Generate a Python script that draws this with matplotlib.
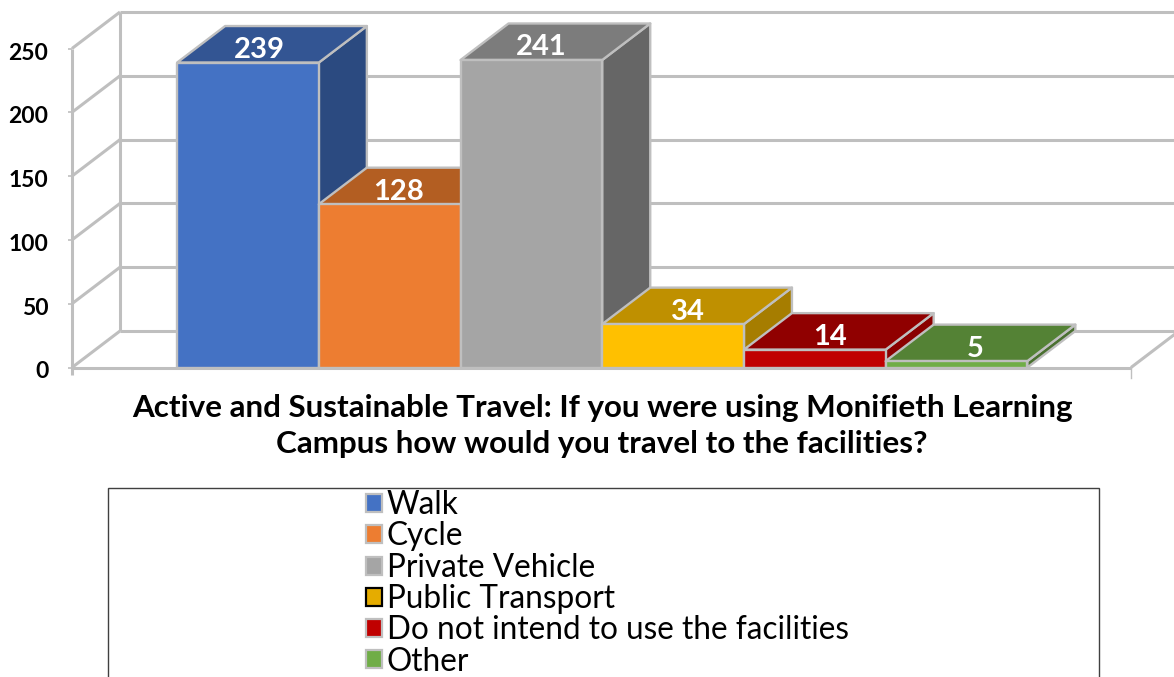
import matplotlib
matplotlib.use('Agg')
import matplotlib.pyplot as plt
from matplotlib.patches import Patch, Polygon, Rectangle
from matplotlib.transforms import ScaledTranslation

categories = ['Walk', 'Cycle', 'Private Vehicle', 'Public Transport',
              'Do not intend to use the facilities', 'Other']
values = [239, 128, 241, 34, 14, 5]
y_ticks = [0, 50, 100, 150, 200, 250]
title = ('Active and Sustainable Travel: If you were using Monifieth Learning\n'
         'Campus how would you travel to the facilities?')

front_colors = ['#4472C4', '#ED7D31', '#A5A5A5', '#FFC000', '#C00000', '#70AD47']
top_colors = ['#335593', '#B35E22', '#7C7C7C', '#BF9000', '#900000', '#548235']
side_colors = ['#2B4A80', '#9E521E', '#666666', '#A67D00', '#8A0000', '#4A7030']
legend_colors = ['#4472C4', '#ED7D31', '#A5A5A5', '#E5AC00', '#C00000', '#70AD47']
legend_edges = ['#BFBFBF', '#BFBFBF', '#BFBFBF', '#000000', '#BFBFBF', '#BFBFBF']

W, H = 1174, 677
GREY = '#BFBFBF'
FONT = 'Lato'

# pixel scale of the front plane
PX_PER_BAR = 141.7
PX_PER_UNIT = 1.276
X0_PX = 248.0
Y0_PX = 367.5
AX_LEFT_PX = 72.0

# depth of the fake 3d box, in data units
DX = 48.0 / PX_PER_BAR
DY = 36.5 / PX_PER_UNIT
LEFT = (AX_LEFT_PX - X0_PX) / PX_PER_BAR
RIGHT = (W - X0_PX) / PX_PER_BAR
FLOOR_END = (1131 - X0_PX) / PX_PER_BAR
BAR_W = 1.0

fig = plt.figure(figsize=(W / 100, H / 100), dpi=100)
ax = fig.add_axes([AX_LEFT_PX / W, (H - Y0_PX) / H, 1 - AX_LEFT_PX / W, Y0_PX / H])
ax.set_xlim(LEFT, RIGHT)
ax.set_ylim(0, Y0_PX / PX_PER_UNIT)
for s in ax.spines.values():
    s.set_visible(False)
ax.set_xticks([])
ax.set_yticks(y_ticks)
ax.tick_params(axis='y', length=3, width=1.2, color=GREY, pad=14)
tick_shift = ScaledTranslation(0, -2.5 / 100, fig.dpi_scale_trans)
for t in ax.get_yticklabels():
    t.set_fontsize(16.5)
    t.set_fontweight('bold')
    t.set_fontfamily(FONT)
    t.set_color('#000000')
    t.set_transform(t.get_transform() + tick_shift)

line = dict(color=GREY, lw=2.2, clip_on=False, solid_capstyle='butt', zorder=1)
top_tick = y_ticks[-1]
# walls and gridlines
for v in y_ticks:
    ax.plot([LEFT, LEFT + DX], [v, v + DY], **line)
    ax.plot([LEFT + DX, RIGHT], [v + DY, v + DY], **line)
ax.plot([LEFT, LEFT], [-6, top_tick], **line)
ax.plot([LEFT + DX, LEFT + DX], [DY, top_tick + DY], **line)
ax.plot([LEFT, FLOOR_END], [0, 0], **line)
ax.plot([FLOOR_END, FLOOR_END], [-8, 0], color=GREY, lw=1.0, clip_on=False, zorder=1)
ax.plot([FLOOR_END, FLOOR_END + DX], [0, DY], **line)

# bars, left to right so the next one overlaps the previous side
label_shift_px = [11, 9, 10, 15, 15, 19]
for i, v in enumerate(values):
    x1 = i - BAR_W / 2
    x2 = i + BAR_W / 2
    style = dict(edgecolor=GREY, lw=1.7, joinstyle='round', zorder=2 + i)
    ax.add_patch(Polygon([(x2, 0), (x2 + DX, DY), (x2 + DX, v + DY), (x2, v)],
                         facecolor=side_colors[i], **style))
    ax.add_patch(Polygon([(x1, v), (x2, v), (x2 + DX, v + DY), (x1 + DX, v + DY)],
                         facecolor=top_colors[i], **style))
    ax.add_patch(Polygon([(x1, 0), (x2, 0), (x2, v), (x1, v)],
                         facecolor=front_colors[i], **style))
    ax.annotate(str(v), (i, v), xytext=(label_shift_px[i] * 0.72, 12.5 * 0.72),
                textcoords='offset points', ha='center', va='center',
                color='white', fontsize=21, fontweight='bold', fontfamily=FONT,
                zorder=20)

fig.text(602 / W, 1 - 407.5 / H, title.split('\n')[0], ha='center', va='center',
         fontsize=22.6, fontweight='bold', fontfamily=FONT)
fig.text(602 / W, 1 - 444.5 / H, title.split('\n')[1], ha='center', va='center',
         fontsize=22.6, fontweight='bold', fontfamily=FONT)

# legend box runs off the bottom of the picture
fig.add_artist(Rectangle((108 / W, -0.02), 991 / W, 1.02 - 488 / H, transform=fig.transFigure,
                         facecolor='none', edgecolor='#404040', lw=1.0))
handles = [Patch(facecolor=c, edgecolor=e, lw=1.6, label=n)
           for c, e, n in zip(legend_colors, legend_edges, categories)]
fig.legend(handles=handles, loc='upper left', bbox_to_anchor=(341 / W, 1 - 465 / H),
           frameon=False, prop={'family': FONT, 'size': 22.7}, labelspacing=0.04,
           handlelength=0.5, handleheight=0.5, handletextpad=0.15, borderpad=0.3)

fig.savefig('out.png', dpi=100)
